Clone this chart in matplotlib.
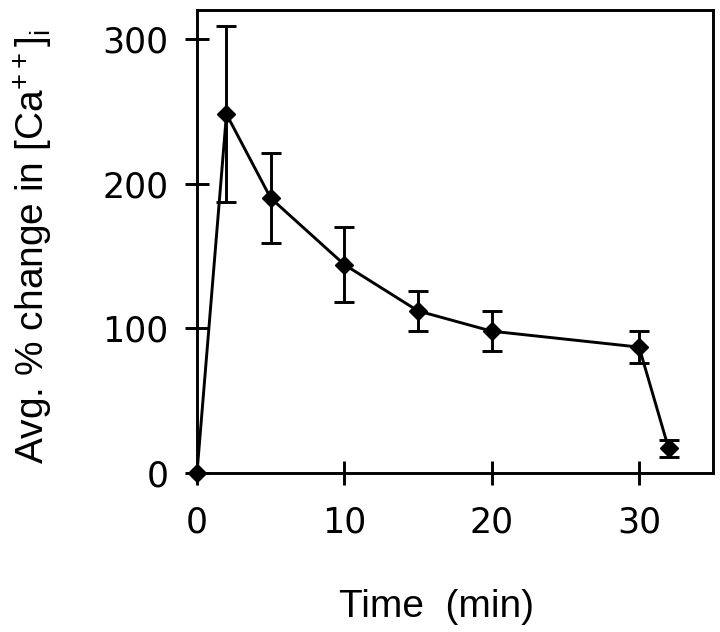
import matplotlib

matplotlib.use("Agg")
import matplotlib.pyplot as plt

# values
time_min = [0, 2, 5, 10, 15, 20, 30, 32]
pct_change = [0, 248, 190, 144, 112, 98, 87, 17]
sem = [0, 61, 31, 26, 14, 14, 11, 6]

x_ticks = [0, 10, 20, 30]
y_ticks = [0, 100, 200, 300]

plt.rcParams["mathtext.fontset"] = "custom"
plt.rcParams["mathtext.rm"] = "Liberation Sans"

fig = plt.figure(figsize=(7.2, 6.32), dpi=100)
ax = fig.add_axes([0.2736, 0.2516, 0.7164, 0.7326])

ax.errorbar(
    time_min,
    pct_change,
    yerr=sem,
    color="black",
    linewidth=2.1,
    elinewidth=2.1,
    capsize=7.5,
    capthick=2.1,
    marker="D",
    markersize=9.5,
    clip_on=False,
    zorder=3,
)

ax.set_xlim(0, 35)
ax.set_ylim(0, 320)
ax.set_xticks(x_ticks)
ax.set_yticks(y_ticks)

for side in ax.spines.values():
    side.set_linewidth(2.1)

ax.tick_params(direction="inout", length=17, width=2.1, labelsize=25)
ax.tick_params(axis="y", pad=12)
ax.tick_params(axis="x", pad=15)
for lbl in ax.get_xticklabels() + ax.get_yticklabels():
    lbl.set_fontfamily("DejaVu Sans")

ax.set_xlabel("Time  (min)", fontsize=28, family="Liberation Sans")
ax.xaxis.set_label_coords(0.465, -0.25)
ax.set_ylabel(
    r"Avg. % change in [Ca$\mathregular{^{++}}$]$\mathregular{_i}$",
    fontsize=28,
    family="Liberation Sans",
)
ax.yaxis.set_label_coords(-0.275, 0.49)

fig.savefig("out.png", dpi=100)
plt.close(fig)
